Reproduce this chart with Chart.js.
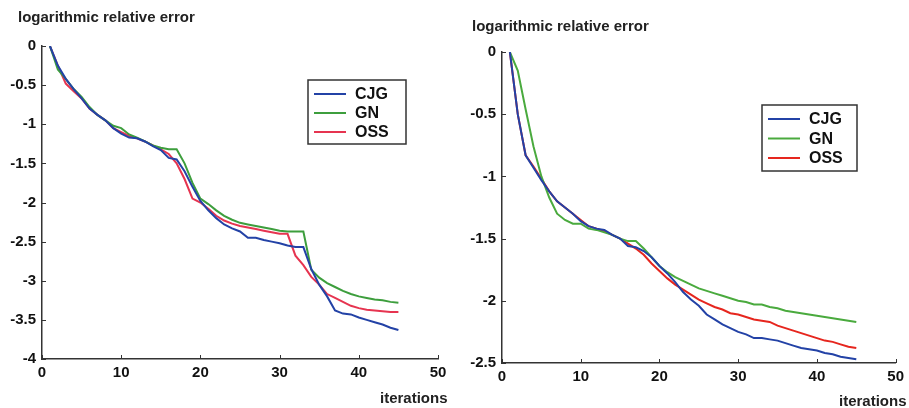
<!DOCTYPE html>
<html>
<head>
<meta charset="utf-8">
<script src="https://cdn.jsdelivr.net/npm/chart.js@4.4.1/dist/chart.umd.min.js"></script>
<style>
  body { margin: 0; background: #fff; width: 909px; height: 408px; overflow: hidden; position: relative; font-family: "Liberation Sans", Arial, sans-serif; }
  .box { position: absolute; top: 0; height: 408px; }
  .txt { position: absolute; font-weight: bold; font-size: 15px; color: #222; white-space: nowrap; line-height: 1; }
</style>
</head>
<body>
<div class="box" style="left:0;width:455px"><canvas id="leftChart"></canvas></div>
<div class="box" style="left:455px;width:454px"><canvas id="rightChart"></canvas></div>
<div class="txt" style="left:18px;top:9px">logarithmic relative error</div>
<div class="txt" style="left:472px;top:18px">logarithmic relative error</div>
<div class="txt" style="left:380px;top:390px">iterations</div>
<div class="txt" style="left:839px;top:393px">iterations</div>
<script>
const iterations = [1, 2, 3, 4, 5, 6, 7, 8, 9, 10, 11, 12, 13, 14, 15, 16, 17, 18, 19, 20, 21, 22, 23, 24, 25, 26, 27, 28, 29, 30, 31, 32, 33, 34, 35, 36, 37, 38, 39, 40, 41, 42, 43, 44, 45];
const seriesNames = ['CJG', 'GN', 'OSS'];

// linkes Bild
const leftCJG = [0, -0.25, -0.42, -0.55, -0.67, -0.8, -0.88, -0.95, -1.05, -1.12, -1.17, -1.18, -1.22, -1.28, -1.33, -1.43, -1.45, -1.6, -1.8, -1.98, -2.1, -2.2, -2.28, -2.33, -2.37, -2.45, -2.45, -2.48, -2.5, -2.52, -2.55, -2.57, -2.57, -2.85, -3.05, -3.2, -3.38, -3.42, -3.43, -3.47, -3.5, -3.53, -3.56, -3.6, -3.63];
const leftGN = [0, -0.3, -0.42, -0.55, -0.65, -0.78, -0.88, -0.95, -1.02, -1.05, -1.13, -1.17, -1.22, -1.27, -1.3, -1.32, -1.32, -1.5, -1.75, -1.95, -2.02, -2.1, -2.17, -2.22, -2.26, -2.28, -2.3, -2.32, -2.34, -2.36, -2.37, -2.37, -2.37, -2.86, -2.96, -3.03, -3.08, -3.13, -3.17, -3.2, -3.22, -3.24, -3.25, -3.27, -3.28];
const leftOSS = [0, -0.25, -0.48, -0.58, -0.67, -0.8, -0.88, -0.95, -1.05, -1.1, -1.15, -1.18, -1.22, -1.27, -1.32, -1.38, -1.5, -1.7, -1.95, -2.0, -2.08, -2.17, -2.23, -2.27, -2.3, -2.32, -2.34, -2.36, -2.38, -2.4, -2.4, -2.68, -2.8, -2.95, -3.05, -3.17, -3.22, -3.27, -3.32, -3.35, -3.37, -3.38, -3.39, -3.4, -3.4];

// rechtes Bild
const rightCJG = [0, -0.5, -0.83, -0.93, -1.03, -1.12, -1.2, -1.25, -1.3, -1.36, -1.4, -1.42, -1.43, -1.47, -1.5, -1.56, -1.57, -1.6, -1.65, -1.72, -1.78, -1.85, -1.93, -1.99, -2.04, -2.11, -2.15, -2.19, -2.22, -2.25, -2.27, -2.3, -2.3, -2.31, -2.32, -2.34, -2.36, -2.38, -2.39, -2.4, -2.42, -2.43, -2.45, -2.46, -2.47];
const rightGN = [0, -0.15, -0.46, -0.76, -1.0, -1.17, -1.3, -1.35, -1.38, -1.38, -1.42, -1.43, -1.45, -1.47, -1.5, -1.52, -1.52, -1.58, -1.65, -1.72, -1.77, -1.81, -1.84, -1.87, -1.9, -1.92, -1.94, -1.96, -1.98, -2.0, -2.01, -2.03, -2.03, -2.05, -2.06, -2.08, -2.09, -2.1, -2.11, -2.12, -2.13, -2.14, -2.15, -2.16, -2.17];
const rightOSS = [0, -0.5, -0.83, -0.92, -1.02, -1.12, -1.2, -1.25, -1.3, -1.35, -1.4, -1.42, -1.44, -1.47, -1.5, -1.54, -1.58, -1.63, -1.7, -1.76, -1.82, -1.87, -1.91, -1.95, -1.99, -2.02, -2.05, -2.07, -2.1, -2.11, -2.13, -2.15, -2.16, -2.17, -2.2, -2.22, -2.24, -2.26, -2.28, -2.3, -2.32, -2.33, -2.35, -2.37, -2.38];

const FONT = '"Liberation Sans", Arial, sans-serif';
const AXIS = '#333';

// Legende als eigener Kasten, wie im Original
const boxLegend = {
    id: 'boxLegend',
    afterDatasetsDraw(chart, args, opts) {
        const ctx = chart.ctx;
        ctx.save();
        ctx.strokeStyle = AXIS;
        ctx.lineWidth = 1.5;
        ctx.strokeRect(opts.x, opts.y, opts.w, opts.h);
        ctx.font = 'bold 16px ' + FONT;
        ctx.textBaseline = 'middle';
        chart.data.datasets.forEach((ds, i) => {
            const yy = opts.y + 14 + i * opts.row;
            ctx.strokeStyle = ds.borderColor;
            ctx.lineWidth = 2;
            ctx.beginPath();
            ctx.moveTo(opts.x + 6, yy);
            ctx.lineTo(opts.x + 38, yy);
            ctx.stroke();
            ctx.fillStyle = '#111';
            ctx.fillText(ds.label, opts.x + 47, yy + 1);
        });
        ctx.restore();
    }
};

// kleine Striche nach innen an den Achsen
const innerTicks = {
    id: 'innerTicks',
    afterDraw(chart) {
        const ctx = chart.ctx;
        const { x, y } = chart.scales;
        ctx.save();
        ctx.strokeStyle = AXIS;
        ctx.lineWidth = 1;
        ctx.beginPath();
        x.ticks.forEach(t => {
            const px = Math.round(x.getPixelForValue(t.value)) + 0.5;
            ctx.moveTo(px, y.bottom);
            ctx.lineTo(px, y.bottom - 4);
        });
        y.ticks.forEach(t => {
            const py = Math.round(y.getPixelForValue(t.value)) + 0.5;
            ctx.moveTo(x.left, py);
            ctx.lineTo(x.left + 4, py);
        });
        ctx.stroke();
        ctx.restore();
    }
};

function makeChart(id, series, colors, yMin, pad, yWidth, xHeight, legend) {
    const ctx = document.getElementById(id).getContext('2d');
    return new Chart(ctx, {
        type: 'line',
        data: {
            datasets: series.map((vals, i) => ({
                label: seriesNames[i],
                data: vals.map((v, k) => ({ x: iterations[k], y: v })),
                borderColor: colors[i],
                borderWidth: 2,
                pointRadius: 0,
                tension: 0,
                fill: false
            }))
        },
        options: {
            responsive: true,
            maintainAspectRatio: false,
            animation: false,
            layout: { padding: pad },
            scales: {
                x: {
                    type: 'linear',
                    min: 0, max: 50,
                    afterFit: (s) => { s.height = xHeight; },
                    ticks: { stepSize: 10, color: '#111', padding: 5, font: { family: FONT, size: 15, weight: 'bold' } },
                    grid: { display: false, drawTicks: false },
                    border: { display: true, color: AXIS, width: 1.5 }
                },
                y: {
                    type: 'linear',
                    min: yMin, max: 0,
                    afterFit: (s) => { s.width = yWidth; },
                    ticks: {
                        stepSize: 0.5, color: '#111', padding: 6,
                        font: { family: FONT, size: 15, weight: 'bold' },
                        callback: (v) => String(Math.round(v * 10) / 10)
                    },
                    grid: { display: false, drawTicks: false },
                    border: { display: true, color: AXIS, width: 1.5 }
                }
            },
            plugins: {
                legend: { display: false },
                tooltip: { enabled: false },
                boxLegend: legend
            }
        },
        plugins: [boxLegend, innerTicks]
    });
}

makeChart('leftChart', [leftCJG, leftGN, leftOSS], ['#2342a6', '#3d9e3d', '#e63450'], -4,
    { top: 46, right: 17, bottom: 0, left: 0 }, 42, 49,
    { x: 308, y: 80, w: 98, h: 64, row: 19 });

makeChart('rightChart', [rightCJG, rightGN, rightOSS], ['#2342a6', '#4aaa3e', '#e6261e'], -2.5,
    { top: 52, right: 11, bottom: 0, left: 0 }, 47, 45,
    { x: 307, y: 105, w: 95, h: 66, row: 19.5 });
</script>
</body>
</html>
